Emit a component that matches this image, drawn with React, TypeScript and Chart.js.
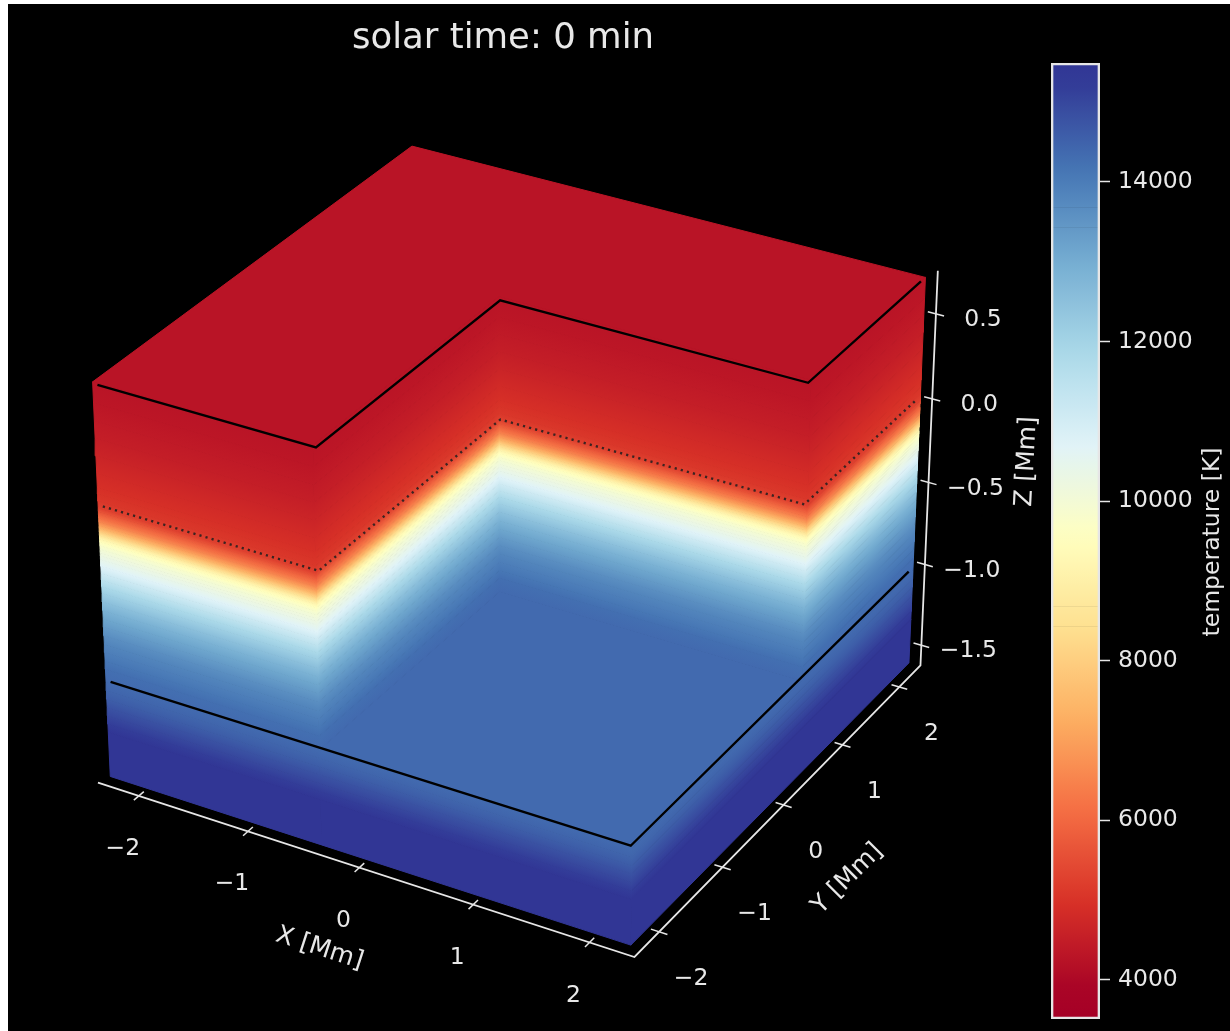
import React, { useEffect, useRef } from "react";
import { Chart, registerables } from "chart.js";

Chart.register(...registerables);

// ---- data ----
const titleText = "solar time: 0 min";
const xTicks = [-2, -1, 0, 1, 2];
const yTicks = [-2, -1, 0, 1, 2];
const zTicks = [0.5, 0, -0.5, -1, -1.5];
const zTickLabels = ["0.5", "0.0", "\u22120.5", "\u22121.0", "\u22121.5"];

// temperature against height (Mm -> K)
const profileZ = [0.72, 0.6, 0.5, 0.4, 0.3, 0.2, 0.12, 0.08, 0.04, 0, -0.02, -0.04, -0.06, -0.08, -0.1, -0.12, -0.14, -0.16, -0.18, -0.2, -0.22, -0.24, -0.26, -0.28, -0.3, -0.34, -0.38, -0.42, -0.46, -0.5, -0.55, -0.6, -0.65, -0.7, -0.75, -0.8, -0.85, -0.9, -0.95, -1.03, -1.08, -1.13, -1.18, -1.23, -1.28, -1.33, -1.6];
const profileT = [4000, 4060, 4150, 4260, 4400, 4560, 4680, 4760, 4840, 5050, 5350, 5700, 6000, 6350, 6800, 7300, 7900, 8500, 9100, 9500, 9750, 9950, 10100, 10250, 10400, 10700, 11100, 11500, 11900, 12200, 12600, 12950, 13250, 13500, 13750, 13950, 14100, 14250, 14400, 14500, 14600, 14750, 14950, 15150, 15350, 15490, 15490];

// colour bar
const levelEdges = [3511, 3930, 4180, 4430, 4680, 4930, 5180, 5430, 5680, 5930, 6180, 6430, 6680, 6930, 7180, 7430, 7680, 7930, 8180, 8430, 8680, 8930, 9180, 9430, 9680, 9930, 10180, 10430, 10680, 10930, 11180, 11430, 11680, 11930, 12180, 12430, 12680, 12930, 13180, 13430, 13680, 13930, 14180, 14430, 14680, 14930, 15180, 15491];
const colorbarTicks = [4000, 6000, 8000, 10000, 12000, 14000];

// solid extent (Mm)
const xSolid = [-2.31, -0.38, 2.31];
const ySolid = [-2.31, 0.39, 2.31];
const zTop = 0.72;
const zFloor = -1.03;
const zBottom = -1.6;

// contour outlines (Mm)
const xContour = [-2.285, -0.37, 2.285];
const yContour = [-2.285, 0.39, 2.285];
const zContourTop = 0.7;
const zContourMid = 0.005;
const zContourLow = -1.03;

// axis box (Mm)
const xLim = [-2.38, 2.38];
const yLim = [-2.38, 2.38];
const zLim = [-1.627, 0.75];

// ---- camera ----
const elev = (30 * Math.PI) / 180;
const azim = (-60 * Math.PI) / 180;
const dist = 10;
const boxA = 0.5714;
const boxC = 0.4286;
const n = [Math.cos(elev) * Math.cos(azim), Math.cos(elev) * Math.sin(azim), Math.sin(elev)];
const nu = Math.hypot(n[0], n[1]);
const u = [-n[1] / nu, n[0] / nu, 0];
const v = [n[1] * u[2] - n[2] * u[1], n[2] * u[0] - n[0] * u[2], n[0] * u[1] - n[1] * u[0]];

type P = { x: number; y: number };
function project(X: number, Y: number, Z: number): P {
  const p = [
    (boxA * 2 * (X - (xLim[0] + xLim[1]) / 2)) / (xLim[1] - xLim[0]),
    (boxA * 2 * (Y - (yLim[0] + yLim[1]) / 2)) / (yLim[1] - yLim[0]),
    (boxC * 2 * (Z - (zLim[0] + zLim[1]) / 2)) / (zLim[1] - zLim[0]),
  ];
  const d = dist - (n[0] * p[0] + n[1] * p[1] + n[2] * p[2]);
  return {
    x: (u[0] * p[0] + u[1] * p[1] + u[2] * p[2]) / d,
    y: (v[0] * p[0] + v[1] * p[1] + v[2] * p[2]) / d,
  };
}

// layout of the stage
const stageW = 1222;
const stageH = 1027;
const pxPerUnit = 5380;
const centerX = 508.5;
const centerY = 523.5;
const toPx = (p: P) => ({ x: centerX + p.x * pxPerUnit, y: centerY - p.y * pxPerUnit });

// ---- colours ----
const rdYlBu = [
  [165, 0, 38], [215, 48, 39], [244, 109, 67], [253, 174, 97], [254, 224, 144], [255, 255, 191],
  [224, 243, 248], [171, 217, 233], [116, 173, 209], [69, 117, 180], [49, 54, 149],
];
function cmap(f: number) {
  const s = Math.min(0.99999, Math.max(0, f)) * (rdYlBu.length - 1);
  const i = Math.floor(s);
  const t = s - i;
  const c = rdYlBu[i].map((a, k) => Math.round(a + (rdYlBu[i + 1][k] - a) * t));
  return `rgb(${c[0]},${c[1]},${c[2]})`;
}
const tMin = levelEdges[0];
const tMax = levelEdges[levelEdges.length - 1];
const bandCount = levelEdges.length - 1;
const colorOfT = (T: number) => cmap((T - tMin) / (tMax - tMin));

// ---- dataset builders ----
function polygon(points: P[], color: any) {
  return {
    data: [...points, points[0]],
    showLine: true,
    fill: "shape",
    tension: 0,
    pointRadius: 0,
    backgroundColor: color,
    borderColor: color,
    borderWidth: 1,
  };
}
function polyline(points: P[], color: string, width: number, dash?: number[]) {
  return {
    data: points,
    showLine: true,
    fill: false,
    tension: 0,
    pointRadius: 0,
    borderColor: color,
    borderWidth: width,
    borderDash: dash || [],
    borderCapStyle: "butt",
    borderJoinStyle: "miter",
  };
}
function stripGradient(g: CanvasRenderingContext2D, a: P, b: P, c: P, d: P, c1: string, c2: string) {
  const A = toPx(a), B = toPx(b), C = toPx(c), D = toPx(d);
  const mx = (A.x + B.x) / 2, my = (A.y + B.y) / 2;
  const lx = (C.x + D.x) / 2 - mx, ly = (C.y + D.y) / 2 - my;
  let nx = -(B.y - A.y), ny = B.x - A.x;
  const len = Math.hypot(nx, ny) || 1;
  nx /= len; ny /= len;
  const s = lx * nx + ly * ny;
  const grad = g.createLinearGradient(mx, my, mx + nx * s, my + ny * s);
  grad.addColorStop(0, c1);
  grad.addColorStop(1, c2);
  return grad;
}
function wall(g: CanvasRenderingContext2D, x1: number, y1: number, x2: number, y2: number, zHigh: number, zLow: number) {
  const out: any[] = [];
  for (let i = 0; i < profileZ.length - 1; i++) {
    const a = profileZ[i];
    const b = profileZ[i + 1];
    if (a > zHigh + 1e-6 || b < zLow - 1e-6) continue;
    const A = project(x1, y1, a), B = project(x2, y2, a), C = project(x2, y2, b), D = project(x1, y1, b);
    out.push(polygon([A, B, C, D], stripGradient(g, A, B, C, D, colorOfT(profileT[i]), colorOfT(profileT[i + 1]))));
  }
  return out;
}

const [xa, xb, xc] = xSolid;
const [ya, yb, yc] = ySolid;
const notchPath = (z: number) => [
  project(xContour[0], yContour[0], z),
  project(xContour[1], yContour[0], z),
  project(xContour[1], yContour[1], z),
  project(xContour[2], yContour[1], z),
  project(xContour[2], yContour[2], z),
];

const AXIS_COLOR = "#e6e6e6";
const tickHalf = 0.07;

function buildDatasets(g: CanvasRenderingContext2D) {
  const sets: any[] = [];
  // floor of the cut-out
  sets.push(polygon([project(xb, ya, zFloor), project(xb, yb, zFloor), project(xc, yb, zFloor), project(xc, ya, zFloor)], colorOfT(profileT[profileZ.indexOf(zFloor)])));
  sets.push(...wall(g, xb, yb, xc, yb, zTop, zFloor));
  sets.push(...wall(g, xb, ya, xb, yb, zTop, zFloor));
  sets.push(...wall(g, xc, yb, xc, yc, zTop, zFloor));
  sets.push(...wall(g, xa, ya, xb, ya, zTop, zBottom));
  sets.push(...wall(g, xb, ya, xc, ya, zFloor, zBottom));
  sets.push(...wall(g, xc, ya, xc, yc, zFloor, zBottom));
  // top surface
  sets.push(polygon([project(xa, ya, zTop), project(xb, ya, zTop), project(xb, yb, zTop), project(xc, yb, zTop), project(xc, yc, zTop), project(xa, yc, zTop)], colorOfT(profileT[0])));
  // contour outlines
  sets.push(polyline(notchPath(zContourTop), "#000000", 2.4));
  sets.push(polyline(notchPath(zContourMid), "rgba(30,30,30,0.85)", 2.4, [2.2, 4.1]));
  sets.push(polyline([project(xContour[0], yContour[0], zContourLow), project(xContour[2], yContour[0], zContourLow), project(xContour[2], yContour[2], zContourLow)], "#000000", 2.4));
  // axis frame
  sets.push(polyline([project(xLim[0], yLim[0], zLim[0]), project(xLim[1], yLim[0], zLim[0]), project(xLim[1], yLim[1], zLim[0]), project(xLim[1], yLim[1], zLim[1])], AXIS_COLOR, 1.8));
  for (const t of xTicks) sets.push(polyline([project(t, yLim[0] - tickHalf, zLim[0]), project(t, yLim[0] + tickHalf, zLim[0])], AXIS_COLOR, 1.5));
  for (const t of yTicks) sets.push(polyline([project(xLim[1] - tickHalf, t, zLim[0]), project(xLim[1] + tickHalf, t, zLim[0])], AXIS_COLOR, 1.5));
  for (const t of zTicks) sets.push(polyline([project(xLim[1] - tickHalf, yLim[1], t), project(xLim[1] + tickHalf, yLim[1], t)], AXIS_COLOR, 1.5));
  return sets.map((s, i) => ({ ...s, order: -i }));
}

const TEXT_COLOR = "#e8e8e8";
const tickFont = '23.5px "DejaVu Sans"';
const axisTitleFont = '25px "DejaVu Sans"';

const labelsPlugin = {
  id: "labels3d",
  afterDatasetsDraw(chart: any) {
    const { ctx, scales } = chart;
    const put = (p: P, dx: number, dy: number, text: string, font: string, deg = 0) => {
      ctx.save();
      ctx.translate(scales.x.getPixelForValue(p.x) + dx, scales.y.getPixelForValue(p.y) + dy);
      ctx.rotate((deg * Math.PI) / 180);
      ctx.font = font;
      ctx.fillStyle = TEXT_COLOR;
      ctx.textAlign = "center";
      ctx.textBaseline = "middle";
      ctx.fillText(text, 0, 0);
      ctx.restore();
    };
    const minus = (t: number) => (t < 0 ? "\u2212" + Math.abs(t) : String(t));
    xTicks.forEach((t) => put(project(t, yLim[0], zLim[0]), -16, 53, minus(t), tickFont));
    yTicks.forEach((t) => put(project(xLim[1], t, zLim[0]), 32, 47, minus(t), tickFont));
    zTicks.forEach((t, i) => put(project(xLim[1], yLim[1], t), 47, 6, zTickLabels[i], tickFont));
    put(project(0, yLim[0], zLim[0]), -40, 81, "X [Mm]", axisTitleFont, 18);
    put(project(xLim[1], 0, zLim[0]), 64, 74, "Y [Mm]", axisTitleFont, -45);
    put(project(xLim[1], yLim[1], -0.44), 98, -11, "Z [Mm]", axisTitleFont, -87);
    ctx.save();
    ctx.font = '35.5px "DejaVu Sans"';
    ctx.fillStyle = TEXT_COLOR;
    ctx.textAlign = "center";
    ctx.textBaseline = "middle";
    ctx.fillText(titleText, 495, 35);
    ctx.restore();
  },
};

const colorbarTitlePlugin = {
  id: "colorbarTitle",
  afterDraw(chart: any) {
    const { ctx } = chart;
    ctx.save();
    ctx.translate(chart.width - 17, 538);
    ctx.rotate(-Math.PI / 2);
    ctx.font = tickFont;
    ctx.fillStyle = TEXT_COLOR;
    ctx.textAlign = "center";
    ctx.textBaseline = "middle";
    ctx.fillText("temperature [K]", 0, 0);
    ctx.restore();
  },
};

export default function App() {
  const mainRef = useRef<HTMLCanvasElement>(null);
  const barRef = useRef<HTMLCanvasElement>(null);

  useEffect(() => {
    const mainCanvas = mainRef.current as HTMLCanvasElement;
    const main = new Chart(mainCanvas, {
      type: "scatter",
      data: { datasets: buildDatasets(mainCanvas.getContext("2d") as CanvasRenderingContext2D) },
      options: {
        animation: false,
        responsive: false,
        layout: { padding: 0 },
        scales: {
          x: { type: "linear", display: false, min: -centerX / pxPerUnit, max: (stageW - centerX) / pxPerUnit },
          y: { type: "linear", display: false, min: (centerY - stageH) / pxPerUnit, max: centerY / pxPerUnit },
        },
        plugins: { legend: { display: false }, tooltip: { enabled: false } },
      } as any,
      plugins: [labelsPlugin],
    } as any);

    let barGrad: any = null;
    const barFill = (c: any) => {
      const area = c.chart.chartArea;
      if (!area) return "#000";
      if (!barGrad) {
        barGrad = c.chart.ctx.createLinearGradient(0, area.bottom, 0, area.top);
        barGrad.addColorStop(0, cmap(0));
        for (let k = 1; k < levelEdges.length - 1; k++) {
          barGrad.addColorStop((levelEdges[k] - tMin) / (tMax - tMin), cmap((k - 0.5) / (bandCount - 1)));
        }
        barGrad.addColorStop(1, cmap(1));
      }
      return barGrad;
    };
    const bands = levelEdges.slice(0, -1).map((lo, i) => ({
      data: [[lo, levelEdges[i + 1]]],
      backgroundColor: barFill,
      borderWidth: 0,
      grouped: false,
      barPercentage: 1,
      categoryPercentage: 1,
      order: 1,
    }));
    const frame = {
      data: [[tMin, tMax]],
      backgroundColor: "rgba(0,0,0,0)",
      borderColor: "#e6e6e6",
      borderWidth: 2,
      borderSkipped: false,
      grouped: false,
      barPercentage: 1,
      categoryPercentage: 1,
      order: 0,
    };
    const bar = new Chart(barRef.current as HTMLCanvasElement, {
      type: "bar",
      data: { labels: ["temperature"], datasets: [frame, ...bands] },
      options: {
        animation: false,
        responsive: false,
        layout: { padding: { left: 11, top: 59, bottom: 12, right: 0 } },
        scales: {
          x: { display: false, offset: true },
          y: {
            position: "right",
            min: tMin,
            max: tMax,
            border: { display: false },
            grid: { drawOnChartArea: false, drawTicks: true, tickLength: 10, tickColor: "#e6e6e6", tickWidth: 1.5 },
            afterBuildTicks: (scale: any) => {
              scale.ticks = colorbarTicks.map((value) => ({ value }));
            },
            afterFit: (scale: any) => {
              scale.width = 130;
              scale.paddingTop = 0;
              scale.paddingBottom = 0;
            },
            ticks: {
              color: TEXT_COLOR,
              padding: 8,
              autoSkip: false,
              font: { family: "DejaVu Sans", size: 23.5 },
              callback: (value: any) => String(value),
            },
          },
        },
        plugins: { legend: { display: false }, tooltip: { enabled: false } },
      } as any,
      plugins: [colorbarTitlePlugin],
    } as any);

    return () => {
      main.destroy();
      bar.destroy();
    };
  }, []);

  const blur = "blur(0.6px)";
  return (
    <div style={{ position: "fixed", left: 8, top: 4, width: stageW, height: stageH, background: "#000", overflow: "hidden" }}>
      <canvas ref={mainRef} width={stageW} height={stageH} style={{ position: "absolute", left: 0, top: 0, width: stageW, height: stageH, filter: blur }} />
      <canvas ref={barRef} width={190} height={stageH} style={{ position: "absolute", left: 1032, top: 0, width: 190, height: stageH, filter: blur }} />
    </div>
  );
}
